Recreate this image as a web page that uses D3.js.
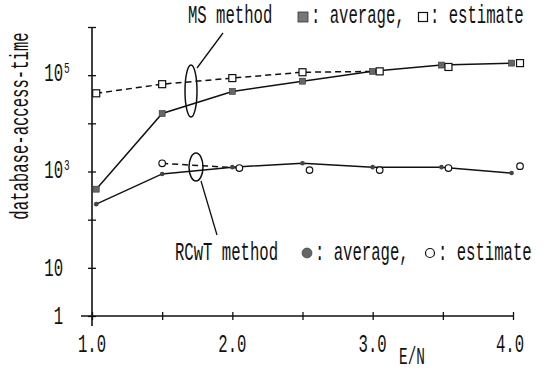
<!DOCTYPE html>
<html><head><meta charset="utf-8">
<script src="https://cdn.jsdelivr.net/npm/d3@7"></script>
<style>html,body{margin:0;padding:0;background:#fff;}svg{display:block;}</style>
</head><body>
<script>
// ---- data ----
const msAvgX = [1.03, 1.5, 2.0, 2.5, 3.0, 3.49, 3.99];
const msAvg  = [430, 16000, 46000, 75000, 120000, 162000, 178000];
const msEstX = [1.03, 1.5, 2.0, 2.5, 3.05, 3.54, 4.05];
const msEst  = [42000, 65000, 87000, 115000, 120000, 148000, 178000];
const rcAvgX = [1.03, 1.5, 2.0, 2.5, 3.0, 3.49, 3.99];
const rcAvg  = [210, 890, 1230, 1480, 1230, 1230, 930];
const rcEstX = [1.5, 2.05, 2.55, 3.05, 3.54, 4.05];
const rcEst  = [1480, 1180, 1070, 1070, 1180, 1290];
const xTicks = [1.0, 1.5, 2.0, 2.5, 3.0, 3.5, 4.0];
const xTickLabels = ["1.0", "2.0", "3.0", "4.0"];
const xLabelVals = [1.0, 2.0, 3.0, 4.0];
const yTicks = [1, 10, 100, 1000, 10000, 100000, 1000000];
const yLabels = [{v:1, base:"1", sup:""}, {v:10, base:"10", sup:""}, {v:1000, base:"10", sup:"3"}, {v:100000, base:"10", sup:"5"}];

const W = 544, H = 372;
const FONT = "'Liberation Mono', 'DejaVu Sans Mono', monospace";
const FS = 25, SX = 0.625;
const svg = d3.select("body").append("svg").attr("width", W).attr("height", H);

const x = d3.scaleLinear().domain([1, 4]).range([92, 513]);
const y = d3.scaleLog().domain([1, 1e6]).range([316, 27]);

function txt(px, py, s, anchor = "start", fs = FS, rot = 0) {
  const g = svg.append("g").attr("transform", `translate(${px},${py}) rotate(${rot}) scale(${SX},1)`);
  g.append("text").attr("text-anchor", anchor).attr("font-family", FONT)
    .attr("font-size", fs).attr("fill", "#111").text(s);
}

// axes
const xAxis = d3.axisBottom(x).tickValues(xTicks).tickFormat("").tickSizeInner(4).tickSizeOuter(0);
const gx = svg.append("g").attr("transform", `translate(0,${y(1)})`).call(xAxis);
gx.select(".domain").remove();
gx.selectAll(".tick line").attr("y1", -4).attr("y2", 4).attr("stroke", "#111").attr("stroke-width", 1.3);
svg.append("line").attr("x1", 81).attr("x2", x(4)).attr("y1", y(1)).attr("y2", y(1)).attr("stroke", "#111").attr("stroke-width", 1.6);

const yAxis = d3.axisLeft(y).tickValues(yTicks).tickFormat("").tickSizeInner(4).tickSizeOuter(0);
const gy = svg.append("g").attr("transform", `translate(${x(1)},0)`).call(yAxis);
gy.select(".domain").remove();
gy.selectAll(".tick line").attr("x1", -4).attr("x2", 4).attr("stroke", "#111").attr("stroke-width", 1.3);
svg.append("line").attr("x1", x(1)).attr("x2", x(1)).attr("y1", y(1e6)).attr("y2", y(1) + 10).attr("stroke", "#111").attr("stroke-width", 1.6);

// tick labels
xLabelVals.forEach((v, i) => txt(x(v) - (v === 4 ? 3 : 0), 352, xTickLabels[i], "middle"));
yLabels.forEach(d => {
  if (d.sup) {
    txt(63, y(d.v) + 6, d.base, "end");
    txt(64, y(d.v) - 2, d.sup, "start", 15);
  } else {
    txt(63, y(d.v) + 8, d.base, "end");
  }
});
txt(412, 364, "E/N", "middle", 23);
txt(28, 126, "database-access-time", "middle", FS, -90);

// lines
const lineGen = (xs) => d3.line().x((d, i) => x(xs[i])).y(d => y(d));
svg.append("path").datum(msEst.slice(0, 5)).attr("d", lineGen(msEstX))
  .attr("fill", "none").attr("stroke", "#111").attr("stroke-width", 1.5).attr("stroke-dasharray", "6,4");
svg.append("path").datum(msAvg).attr("d", lineGen(msAvgX))
  .attr("fill", "none").attr("stroke", "#111").attr("stroke-width", 1.5);
svg.append("path").datum(rcEst.slice(0, 2)).attr("d", lineGen(rcEstX))
  .attr("fill", "none").attr("stroke", "#111").attr("stroke-width", 1.5).attr("stroke-dasharray", "6,4");
svg.append("path").datum(rcAvg).attr("d", lineGen(rcAvgX))
  .attr("fill", "none").attr("stroke", "#111").attr("stroke-width", 1.5);

// markers
svg.selectAll(".msa").data(msAvg).enter().append("rect")
  .attr("x", (d, i) => x(msAvgX[i]) - 3).attr("y", d => y(d) - 3).attr("width", 6).attr("height", 6)
  .attr("fill", "#666").attr("stroke", "#333").attr("stroke-width", 0.6);
svg.selectAll(".mse").data(msEst).enter().append("rect")
  .attr("x", (d, i) => x(msEstX[i]) - 3.5).attr("y", d => y(d) - 3.5).attr("width", 7).attr("height", 7)
  .attr("fill", "#fff").attr("stroke", "#111").attr("stroke-width", 1.2);
svg.selectAll(".rca").data(rcAvg).enter().append("circle")
  .attr("cx", (d, i) => x(rcAvgX[i])).attr("cy", d => y(d)).attr("r", 2.3).attr("fill", "#444");
svg.selectAll(".rce").data(rcEst).enter().append("circle")
  .attr("cx", (d, i) => x(rcEstX[i])).attr("cy", d => y(d)).attr("r", 3.3)
  .attr("fill", "#fff").attr("stroke", "#111").attr("stroke-width", 1.2);

// ellipses and leaders
svg.append("ellipse").attr("cx", 191).attr("cy", 91).attr("rx", 6).attr("ry", 26)
  .attr("fill", "none").attr("stroke", "#111").attr("stroke-width", 1.5);
svg.append("line").attr("x1", 197).attr("y1", 68).attr("x2", 223).attr("y2", 33).attr("stroke", "#111").attr("stroke-width", 1.3);
svg.append("ellipse").attr("cx", 196).attr("cy", 167).attr("rx", 7).attr("ry", 14)
  .attr("fill", "none").attr("stroke", "#111").attr("stroke-width", 1.5);
svg.append("line").attr("x1", 201).attr("y1", 181).attr("x2", 217).attr("y2", 235).attr("stroke", "#111").attr("stroke-width", 1.3);

// legend texts
txt(188, 23, "MS method");
svg.append("rect").attr("x", 298).attr("y", 12).attr("width", 10).attr("height", 10).attr("fill", "#777").attr("stroke", "#333").attr("stroke-width", 0.8);
txt(311, 23, ": average,");
svg.append("rect").attr("x", 418.5).attr("y", 12.5).attr("width", 9).attr("height", 9).attr("fill", "#fff").attr("stroke", "#111").attr("stroke-width", 1.2);
txt(430, 23, ": estimate");

txt(175, 260, "RCwT method");
svg.append("circle").attr("cx", 307).attr("cy", 253).attr("r", 5).attr("fill", "#666").attr("stroke", "#333").attr("stroke-width", 0.6);
txt(315, 260, ": average,");
svg.append("circle").attr("cx", 430).attr("cy", 253).attr("r", 4.5).attr("fill", "#fff").attr("stroke", "#111").attr("stroke-width", 1.2);
txt(438, 260, ": estimate");
</script>
</body></html>
